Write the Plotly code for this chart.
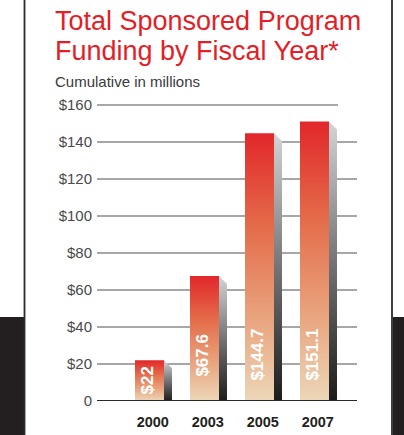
import plotly.graph_objects as go

# ---- data ----
years = ["2000", "2003", "2005", "2007"]
funding = [22, 67.6, 144.7, 151.1]
value_labels = ["$22", "$67.6", "$144.7", "$151.1"]
y_ticks = [0, 20, 40, 60, 80, 100, 120, 140, 160]
y_tick_labels = ["0", "$20", "$40", "$60", "$80", "$100", "$120", "$140", "$160"]

# ---- geometry (figure pixels) ----
W, H = 404, 435
L, R, T, B = 97, 47, 87, 34
PW, PH = W - L - R, H - T - B
px_per_unit = 1.85
y_max = PH / px_per_unit
slot = 55.0
x0_px = 52.5
x_range = [-x0_px / slot, (PW - x0_px) / slot]
bar_w = 29 / slot
shadow_w = 8 / slot
shadow_drop = 8 / px_per_unit


def px_x(p):
    return (p - L) / PW


def px_y(p):
    return (H - B - p) / PH


bar_scale = [[0, "#ecd7b8"], [0.3, "#e9a57f"], [0.65, "#e46c4a"], [1, "#e2272a"]]
shadow_scale = [[0, "#1c1c1c"], [0.45, "#6b6b6d"], [1, "#d3d4d6"]]

fig = go.Figure()

for i, (yr, v) in enumerate(zip(years, funding)):
    xl, xr = i - bar_w / 2, i + bar_w / 2
    # side shadow
    fig.add_trace(go.Scatter(
        x=[xr, xr + shadow_w, xr + shadow_w, xr, xr],
        y=[v, v - shadow_drop, 0, 0, v],
        mode="lines", line=dict(width=0), fill="toself",
        fillgradient=dict(type="vertical", colorscale=shadow_scale),
        hoverinfo="skip", showlegend=False))
    # front face
    fig.add_trace(go.Scatter(
        x=[xl, xr, xr, xl, xl],
        y=[0, 0, v, v, 0],
        mode="lines", line=dict(width=0), fill="toself",
        fillgradient=dict(type="vertical", colorscale=bar_scale),
        hoverinfo="skip", showlegend=False))

shapes = []
# gridlines
for t in y_ticks[1:]:
    x1 = px_x(338) if t == y_ticks[-1] else 1
    shapes.append(dict(type="line", xref="paper", yref="y", x0=0, x1=x1, y0=t, y1=t,
                       line=dict(color="#8a8a8a", width=1.5), layer="below"))
shapes.append(dict(type="line", xref="paper", yref="y", x0=0, x1=1, y0=0, y1=0,
                   line=dict(color="#2a2a2a", width=2), layer="above"))
# frame decoration
shapes.append(dict(type="rect", xref="paper", yref="paper", x0=px_x(0), x1=px_x(24),
                   y0=px_y(317), y1=px_y(H), fillcolor="#231f20", line=dict(width=0)))
shapes.append(dict(type="rect", xref="paper", yref="paper", x0=px_x(393), x1=px_x(W),
                   y0=px_y(317), y1=px_y(H), fillcolor="#231f20", line=dict(width=0)))
for xp in (24.5, 392):
    shapes.append(dict(type="line", xref="paper", yref="paper", x0=px_x(xp), x1=px_x(xp),
                       y0=px_y(0), y1=px_y(H), line=dict(color="#2a2a2a", width=1.8)))

annotations = []
# titles
for txt, yc in (("Total Sponsored Program", 21), ("Funding by Fiscal Year*", 51)):
    annotations.append(dict(text=txt, xref="paper", yref="paper", x=px_x(53), y=px_y(yc),
                            xanchor="left", yanchor="middle", showarrow=False,
                            font=dict(family="Liberation Sans, Arial", size=27, color="#e41e26")))
annotations.append(dict(text="Cumulative in millions", xref="paper", yref="paper",
                        x=px_x(53), y=px_y(81.5), xanchor="left", yanchor="middle",
                        showarrow=False,
                        font=dict(family="Liberation Sans, Arial", size=15, color="#3a3a3a")))
# value labels inside bars
for i, (v, lab) in enumerate(zip(funding, value_labels)):
    annotations.append(dict(text="<b>" + lab + "</b>", x=i - 0.03, y=min(v / 2, 25),
                            xref="x", yref="y", textangle=-90, showarrow=False,
                            xanchor="center", yanchor="middle",
                            font=dict(family="Liberation Sans, Arial", size=17, color="#ffffff")))

fig.update_layout(
    width=W, height=H, autosize=False,
    margin=dict(l=L, r=R, t=T, b=B, pad=0, autoexpand=False),
    paper_bgcolor="white", plot_bgcolor="rgba(0,0,0,0)",
    shapes=shapes, annotations=annotations,
    xaxis=dict(range=x_range, tickvals=[i + 0.06 for i in range(len(years))], ticktext=years,
               showgrid=False, zeroline=False, showline=False, ticks="",
               ticklabelstandoff=10,
               tickfont=dict(family="Liberation Sans, Arial", size=14.5, color="#231f20", weight="bold"),
               fixedrange=True),
    yaxis=dict(range=[0, y_max], tickvals=y_ticks, ticktext=y_tick_labels,
               showgrid=False, zeroline=False, showline=False, ticks="",
               ticklabelstandoff=4,
               tickfont=dict(family="Liberation Sans, Arial", size=15, color="#4a4a4a"),
               fixedrange=True),
    showlegend=False,
)

fig.write_html("out.html", config={"displayModeBar": False, "responsive": False},
               post_script="document.body.style.margin='0';document.body.style.overflow='hidden';")
